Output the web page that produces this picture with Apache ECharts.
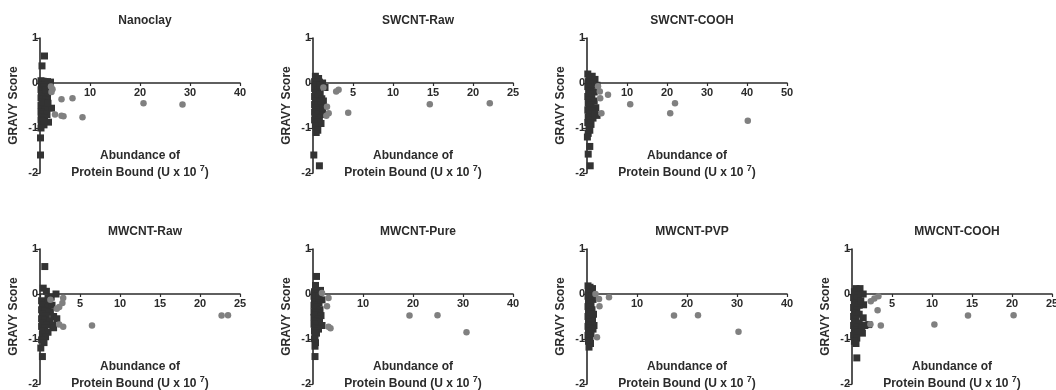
<!DOCTYPE html>
<html><head><meta charset="utf-8">
<script src="https://cdn.jsdelivr.net/npm/echarts@6/dist/echarts.min.js"></script>
<style>html,body{margin:0;padding:0;background:#fff}#c{width:1056px;height:390px}</style>
</head><body><div id="c"></div>
<script>
const titles = ['Nanoclay','SWCNT-Raw','SWCNT-COOH','MWCNT-Raw','MWCNT-Pure','MWCNT-PVP','MWCNT-COOH'];
const xMax = [40,25,50,25,40,40,25];
const xStep = [10,5,10,5,10,10,5];
const yTicks = [-2,-1,0,1];

const nanoclaySquares = [[0.9,0.6],[0.4,0.38],[0.2,0.05],[0.6,0.04],[1.0,0.03],[1.5,0.03],[2.1,0.02],[0.3,-0.05],[0.8,-0.08],[1.3,-0.1],[0.2,-0.15],[0.6,-0.18],[1.0,-0.2],[0.3,-0.25],[0.9,-0.28],[1.5,-0.3],[0.2,-0.33],[0.6,-0.36],[1.2,-0.38],[0.4,-0.42],[0.9,-0.45],[0.2,-0.5],[0.7,-0.52],[1.3,-0.5],[2.3,-0.56],[0.4,-0.58],[1.0,-0.6],[0.2,-0.65],[0.6,-0.68],[1.4,-0.7],[0.3,-0.75],[0.9,-0.78],[0.2,-0.82],[0.6,-0.85],[1.7,-0.87],[0.3,-0.9],[0.8,-0.93],[0.2,-1.0],[0.1,-1.22],[0.1,-1.6],[1.2,-0.15],[1.6,-0.45]];
const nanoclayCircles = [[2.2,-0.08],[2.5,-0.14],[2.3,-0.2],[4.3,-0.36],[6.5,-0.34],[3.0,-0.7],[4.3,-0.73],[4.7,-0.74],[8.5,-0.76],[20.7,-0.45],[28.5,-0.48]];

const swRawSquares = [[0.3,0.15],[0.7,0.1],[0.2,0.03],[0.8,0.02],[1.2,0.0],[0.4,-0.05],[1.0,-0.08],[1.5,-0.1],[0.2,-0.12],[0.6,-0.15],[0.3,-0.22],[0.9,-0.25],[0.2,-0.3],[0.6,-0.33],[1.1,-0.35],[0.3,-0.4],[0.8,-0.42],[1.3,-0.4],[0.2,-0.48],[0.6,-0.5],[1.0,-0.52],[0.3,-0.56],[0.8,-0.6],[0.2,-0.65],[0.6,-0.68],[1.2,-0.7],[0.3,-0.74],[0.8,-0.78],[0.2,-0.82],[0.6,-0.86],[1.0,-0.9],[0.3,-0.95],[0.6,-1.05],[0.4,-1.1],[0.1,-1.6],[0.8,-1.84],[1.2,-0.55],[0.9,-0.05]];
const swRawCircles = [[1.3,-0.1],[2.9,-0.19],[3.2,-0.15],[1.75,-0.53],[1.67,-0.73],[1.96,-0.67],[4.4,-0.66],[14.6,-0.47],[22.1,-0.45]];

const swCoohSquares = [[0.2,0.2],[1.3,0.15],[0.5,0.1],[2.0,0.08],[0.3,0.03],[0.8,0.0],[1.5,-0.02],[2.5,-0.05],[0.2,-0.08],[1.0,-0.12],[0.4,-0.18],[1.8,-0.2],[0.8,-0.25],[0.2,-0.3],[1.2,-0.33],[0.5,-0.38],[1.8,-0.4],[0.3,-0.45],[1.0,-0.48],[0.6,-0.53],[2.2,-0.55],[0.2,-0.6],[1.3,-0.62],[0.7,-0.68],[2.5,-0.72],[0.3,-0.75],[1.5,-0.78],[0.8,-0.82],[0.2,-0.88],[1.0,-0.92],[0.5,-0.98],[0.7,-1.05],[0.3,-1.12],[0.1,-1.2],[0.7,-1.41],[0.3,-1.58],[0.8,-1.84],[2.0,-0.7]];
const swCoohCircles = [[2.75,-0.07],[3.2,-0.19],[3.3,-0.34],[5.25,-0.26],[3.6,-0.67],[10.8,-0.47],[20.8,-0.67],[22,-0.45],[40.2,-0.84]];

const mwRawSquares = [[0.6,0.61],[0.4,0.13],[0.8,0.06],[2.0,0.0],[1.4,-0.07],[0.2,-0.15],[0.8,-0.2],[1.2,-0.18],[0.3,-0.25],[1.0,-0.3],[0.2,-0.35],[0.6,-0.38],[1.3,-0.4],[0.3,-0.45],[0.8,-0.48],[1.7,-0.5],[0.2,-0.55],[0.6,-0.58],[1.2,-0.6],[0.3,-0.65],[0.9,-0.68],[1.6,-0.7],[0.2,-0.72],[0.6,-0.76],[1.7,-0.75],[0.4,-0.82],[1.0,-0.85],[0.3,-0.9],[0.7,-0.95],[0.2,-1.02],[0.5,-1.08],[0.1,-1.2],[0.3,-1.39],[1.5,-0.25],[2.1,-0.55],[1.0,-0.1]];
const mwRawCircles = [[1.3,-0.13],[2.9,-0.09],[2.8,-0.2],[2.4,-0.29],[2.1,-0.33],[2.4,-0.68],[2.9,-0.73],[6.5,-0.7],[22.7,-0.48],[23.5,-0.47]];

const mwPureSquares = [[0.7,0.39],[0.5,0.19],[1.5,0.08],[0.3,0.05],[1.0,0.02],[0.2,-0.05],[1.8,-0.13],[0.6,-0.1],[0.3,-0.18],[1.2,-0.2],[0.2,-0.25],[0.8,-0.28],[0.4,-0.33],[1.4,-0.35],[0.2,-0.4],[0.9,-0.42],[0.5,-0.47],[1.6,-0.48],[0.2,-0.52],[1.0,-0.55],[0.4,-0.6],[1.3,-0.62],[0.2,-0.67],[0.8,-0.7],[1.8,-0.7],[0.4,-0.75],[1.1,-0.78],[0.3,-0.82],[0.7,-0.87],[0.4,-0.92],[0.3,-1.0],[0.5,-1.08],[0.4,-1.16],[0.4,-1.39],[1.2,-0.05]];
const mwPureCircles = [[1.8,0.02],[3.1,-0.09],[2.8,-0.27],[3.1,-0.73],[3.5,-0.76],[19.3,-0.48],[24.9,-0.47],[30.7,-0.85]];

const mwPvpSquares = [[0.2,0.18],[0.6,0.15],[1.1,0.12],[0.3,0.05],[0.9,0.02],[0.2,-0.05],[0.6,-0.1],[1.2,-0.12],[0.3,-0.18],[0.8,-0.22],[0.2,-0.28],[0.6,-0.32],[1.0,-0.35],[0.3,-0.4],[0.8,-0.45],[0.2,-0.5],[0.6,-0.55],[1.1,-0.58],[0.3,-0.62],[0.8,-0.68],[1.4,-0.7],[0.2,-0.72],[0.6,-0.76],[1.2,-0.78],[0.3,-0.82],[0.8,-0.88],[0.2,-0.92],[0.6,-0.98],[0.3,-1.05],[0.7,-1.1],[0.4,-1.18],[1.0,-0.05],[1.3,-0.45]];
const mwPvpCircles = [[1.7,0.0],[2.4,-0.11],[2.5,-0.27],[4.4,-0.07],[2.0,-0.96],[17.4,-0.48],[22.2,-0.47],[30.3,-0.84]];

const mwCoohSquares = [[0.5,0.12],[1.0,0.12],[0.3,0.05],[1.4,0.0],[0.8,-0.02],[0.2,-0.08],[0.6,-0.12],[1.45,-0.24],[0.3,-0.2],[0.9,-0.25],[0.2,-0.3],[0.6,-0.35],[0.3,-0.42],[0.9,-0.45],[0.2,-0.5],[1.4,-0.53],[0.5,-0.55],[0.3,-0.62],[0.9,-0.65],[2.1,-0.68],[1.6,-0.7],[0.2,-0.7],[0.6,-0.74],[1.2,-0.75],[0.3,-0.8],[1.3,-0.87],[0.7,-0.85],[0.2,-0.92],[0.6,-0.98],[0.3,-1.05],[0.5,-1.1],[0.6,-1.42],[1.1,-0.15]];
const mwCoohCircles = [[2.35,-0.16],[2.8,-0.1],[3.3,-0.05],[3.2,-0.36],[2.3,-0.67],[3.6,-0.7],[10.3,-0.68],[14.5,-0.48],[20.2,-0.47]];

const squaresAll = [nanoclaySquares, swRawSquares, swCoohSquares, mwRawSquares, mwPureSquares, mwPvpSquares, mwCoohSquares];
const circlesAll = [nanoclayCircles, swRawCircles, swCoohCircles, mwRawCircles, mwPureCircles, mwPvpCircles, mwCoohCircles];

// layout
const lefts = [40, 313, 587, 40, 313, 587, 852];
const tops = [38, 38, 38, 249, 249, 249, 249];
const W = 200, H = 135;
const FONT = '"Liberation Sans", Arial, sans-serif';
const INK = '#2b2b2b';

const grid = [], xAxis = [], yAxis = [], series = [], title = [], graphic = [];
titles.forEach((t, i) => {
  grid.push({left: lefts[i], top: tops[i], width: W, height: H, containLabel: false, outerBoundsMode: 'none'});
  title.push({text: t, left: lefts[i] + W/2, top: tops[i] - 28, textAlign: 'center',
    textStyle: {fontFamily: FONT, fontSize: 12, fontWeight: 'bold', color: INK}});
  xAxis.push({type: 'value', gridIndex: i, min: 0, max: xMax[i], interval: xStep[i],
    position: 'bottom', offset: -H * 2 / 3,
    axisLine: {onZero: false, lineStyle: {color: INK, width: 1.6}},
    axisTick: {show: true, length: 3, lineStyle: {color: INK, width: 1.2}},
    axisLabel: {fontFamily: FONT, fontSize: 11, fontWeight: 'bold', color: INK, margin: 4,
      formatter: v => v === 0 ? '' : String(v)},
    splitLine: {show: false}
  });
  yAxis.push({type: 'value', gridIndex: i, min: -2, max: 1, interval: 1,
    axisLine: {onZero: false, lineStyle: {color: INK, width: 1.6}},
    axisTick: {show: true, length: 4, lineStyle: {color: INK, width: 1.2}},
    axisLabel: {fontFamily: FONT, fontSize: 11, fontWeight: 'bold', color: INK, margin: 2,
      formatter: v => String(v)},
    splitLine: {show: false},
    name: 'GRAVY Score', nameLocation: 'middle', nameGap: 20,
    nameTextStyle: {fontFamily: FONT, fontSize: 12, fontWeight: 'bold', color: INK}
  });
  graphic.push({type: 'text', x: lefts[i] + W/2, y: tops[i] + 109, silent: true,
    style: {text: '{a|Abundance of}\n{a|Protein Bound (U x 10 }{s|7}{a|)}', align: 'center', verticalAlign: 'top',
      rich: {
        a: {fontFamily: FONT, fontSize: 12, fontWeight: 'bold', fill: INK, lineHeight: 17},
        s: {fontFamily: FONT, fontSize: 9, fontWeight: 'bold', fill: INK, lineHeight: 17, padding: [0, 0, 7, 0]}
      }}
  });
  series.push({type: 'scatter', xAxisIndex: i, yAxisIndex: i, data: squaresAll[i],
    symbol: 'rect', symbolSize: 7, clip: false, itemStyle: {color: '#333333', opacity: 1}, z: 3});
  series.push({type: 'scatter', xAxisIndex: i, yAxisIndex: i, data: circlesAll[i],
    symbol: 'circle', symbolSize: 6.5, clip: false, itemStyle: {color: '#808080', opacity: 1}, z: 4});
});

const chart = echarts.init(document.getElementById('c'), null, {renderer: 'canvas'});
chart.setOption({animation: false, backgroundColor: '#fff', title, grid, xAxis, yAxis, series, graphic, tooltip: {show: false}});
</script>
</body></html>
